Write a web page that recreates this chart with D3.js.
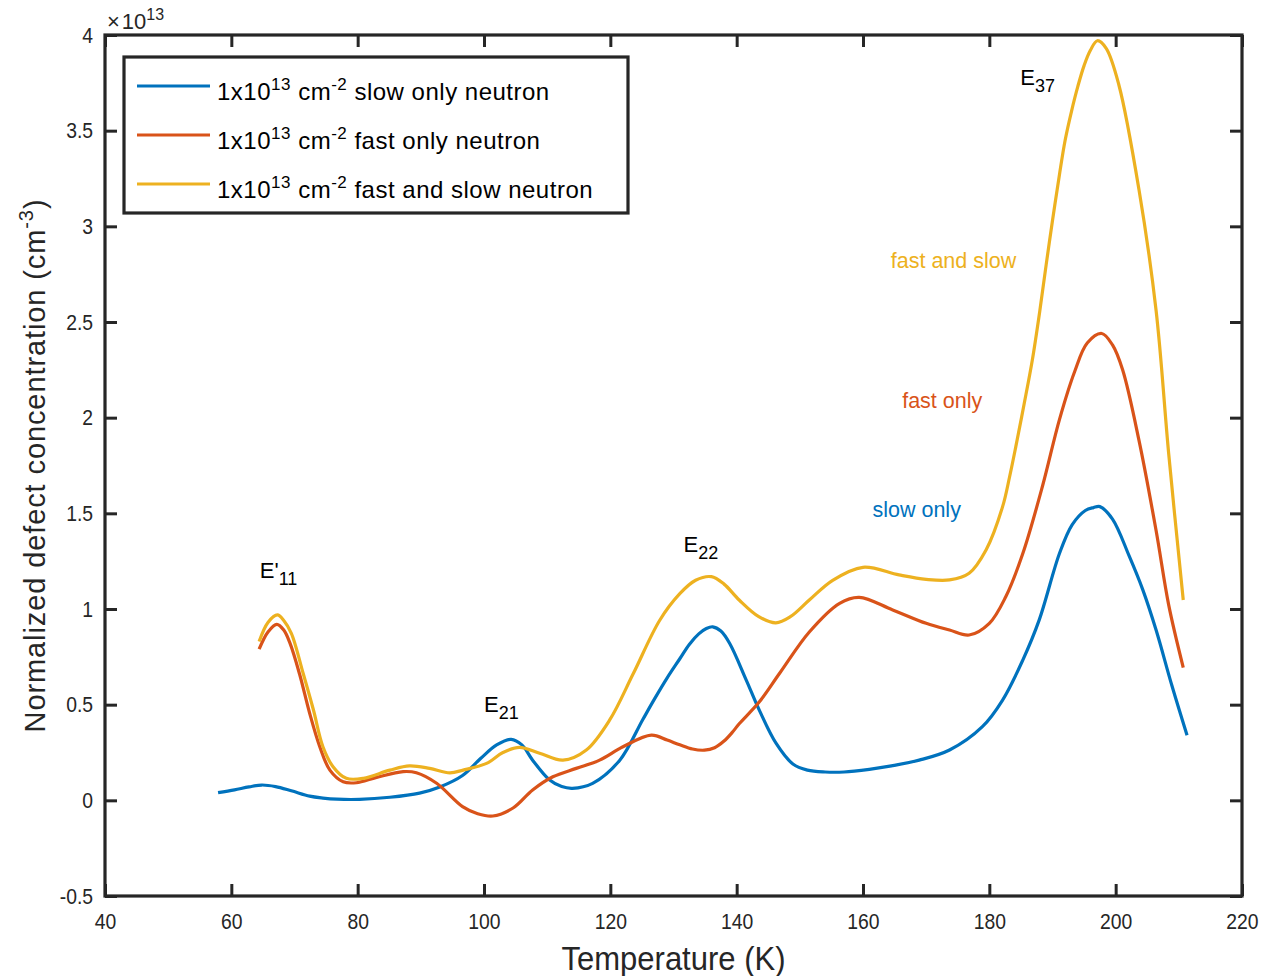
<!DOCTYPE html>
<html><head><meta charset="utf-8">
<script src="https://cdn.jsdelivr.net/npm/d3@7"></script>
<style>
body{margin:0;background:#fff;}
svg{display:block;}
text{font-family:"Liberation Sans",Arial,Helvetica,sans-serif;}
</style></head>
<body>
<svg id="chart" width="1270" height="976"></svg>
<script>
// ---- data (temperature K, concentration in units of 1e13 cm^-3) ----
const slowT = [57.9,60.5,62.8,64.8,67,69.5,72.4,74.5,76.7,80.3,85.1,89.8,93,96.6,99.5,102,104.3,106,107.7,110.4,112.3,114,117.2,121.5,125.1,127,129,131,132.5,134,135.2,136.2,137.5,138.9,141.5,143.6,146.2,148.9,151.2,154,157,161,164.5,168.9,173.7,178.9,182.1,185.3,187.9,191.1,193.1,195.2,196.5,197.5,199.5,202.1,204.3,206.4,208.9,211.3];
const slowV = [0.04,0.055,0.07,0.08,0.072,0.05,0.022,0.012,0.006,0.005,0.016,0.038,0.07,0.13,0.22,0.29,0.319,0.29,0.21,0.106,0.072,0.063,0.089,0.21,0.42,0.53,0.64,0.74,0.815,0.87,0.898,0.907,0.885,0.82,0.63,0.47,0.30,0.19,0.158,0.148,0.148,0.162,0.18,0.21,0.263,0.385,0.524,0.733,0.943,1.29,1.44,1.515,1.53,1.535,1.47,1.28,1.1,0.89,0.6,0.34];
const fastT = [64.4,65.8,67.2,68.3,69.3,70.8,72.4,74,75.6,77.7,79.8,83,87.2,89.3,92.5,96.6,99,101.4,104.6,107.7,110.9,114.6,118.3,122,126.5,129,131,133,134.9,136.5,138,139.3,140.4,143.6,146.8,151.5,156.3,159.4,164.7,170,173.7,176.8,180,182.6,185.3,188.4,191.1,193.5,195.5,197.8,199.5,201.1,203.7,206.4,208.4,210.7];
const fastV = [0.79,0.88,0.92,0.89,0.82,0.66,0.455,0.28,0.158,0.097,0.092,0.12,0.15,0.144,0.089,-0.033,-0.07,-0.082,-0.04,0.054,0.123,0.167,0.21,0.28,0.341,0.315,0.29,0.268,0.262,0.275,0.31,0.355,0.40,0.515,0.664,0.88,1.03,1.061,0.995,0.925,0.89,0.864,0.925,1.064,1.29,1.64,1.99,2.24,2.39,2.44,2.38,2.25,1.88,1.41,1.02,0.694];
const bothT = [64.4,65.8,67.3,68.3,69.5,71.4,73,74.5,76.1,78.2,80.9,85.1,88.2,91.4,94.6,96.7,100.4,103,105.6,108.8,112.5,116.2,119.9,123.6,127.8,131,133.5,136,138,140.4,143.5,146.2,148.5,151.5,155.2,160,165.7,170,173.7,176.8,179.5,182.1,183.2,184.2,185.5,186.8,188,189,190,191.1,192,193,194,195,196,197.1,198.5,200.5,203.7,206.4,208.4,210.7];
const bothV = [0.83,0.93,0.969,0.94,0.873,0.66,0.472,0.28,0.176,0.115,0.115,0.158,0.18,0.167,0.144,0.158,0.193,0.25,0.277,0.246,0.21,0.263,0.42,0.66,0.94,1.08,1.15,1.169,1.13,1.047,0.96,0.928,0.96,1.047,1.15,1.218,1.178,1.155,1.152,1.187,1.31,1.535,1.69,1.85,2.07,2.3,2.56,2.8,3.03,3.27,3.45,3.6,3.73,3.84,3.92,3.97,3.93,3.74,3.19,2.56,1.81,1.047];

const seriesNames = ["slow only neutron","fast only neutron","fast and slow neutron"];
const seriesColors = ["#0072BD","#D95319","#EDB120"];
const xTicks = [40,60,80,100,120,140,160,180,200,220];
const yTicks = [-0.5,0,0.5,1,1.5,2,2.5,3,3.5,4];
const yTickLabels = ["-0.5","0","0.5","1","1.5","2","2.5","3","3.5","4"];
const peakLabels = [
  {main:"E'", sub:"11", T:64.5, v:1.163},
  {main:"E", sub:"21", T:100, v:0.46},
  {main:"E", sub:"22", T:131.6, v:1.30},
  {main:"E", sub:"37", T:184.9, v:3.74}
];
const curveLabels = [
  {text:"fast and slow", T:164.4, v:2.78, c:2},
  {text:"fast only", T:166.2, v:2.05, c:1},
  {text:"slow only", T:161.5, v:1.48, c:0}
];

// ---- layout ----
const L=105, R=1242, T0=35, B=896;
const svg = d3.select("#chart");
const x = d3.scaleLinear().domain([40,220]).range([L,R]);
const y = d3.scaleLinear().domain([-0.5,4]).range([B,T0]);
const axisCol = "#262626";
const SX = 0.86; // horizontal condensation of axis fonts

const line = d3.line().x(d=>x(d[0])).y(d=>y(d[1])).curve(d3.curveCatmullRom.alpha(0.5));
const data = [d3.zip(slowT,slowV), d3.zip(fastT,fastV), d3.zip(bothT,bothV)];

data.forEach((d,i)=>{
  svg.append("path").datum(d).attr("d",line).attr("fill","none")
    .attr("stroke",seriesColors[i]).attr("stroke-width",3.2).attr("stroke-linejoin","round");
});

// axes with inward ticks on all sides
const tl = 12;
const gB = svg.append("g").attr("transform",`translate(0,${B})`)
  .call(d3.axisBottom(x).tickValues(xTicks).tickSizeInner(-tl).tickSizeOuter(0).tickPadding(17));
const gT = svg.append("g").attr("transform",`translate(0,${T0})`)
  .call(d3.axisTop(x).tickValues(xTicks).tickSizeInner(-tl).tickSizeOuter(0).tickFormat(""));
const gL = svg.append("g").attr("transform",`translate(${L},0)`)
  .call(d3.axisLeft(y).tickValues(yTicks).tickSizeInner(-tl).tickSizeOuter(0).tickPadding(12)
    .tickFormat((d,i)=>yTickLabels[i]));
const gR = svg.append("g").attr("transform",`translate(${R},0)`)
  .call(d3.axisRight(y).tickValues(yTicks).tickSizeInner(-tl).tickSizeOuter(0).tickFormat(""));
[gB,gT,gL,gR].forEach(g=>{
  g.select(".domain").remove();
  g.selectAll(".tick line").attr("stroke",axisCol).attr("stroke-width",3);
  g.selectAll(".tick text").attr("fill",axisCol).attr("font-size",22.5);
});
gB.selectAll(".tick text").attr("dy","0.71em").attr("transform",`scale(${SX},1)`);
gL.selectAll(".tick text").attr("x",-12/SX).attr("transform",`scale(${SX},1)`);
// box
svg.append("rect").attr("x",L).attr("y",T0).attr("width",R-L).attr("height",B-T0)
  .attr("fill","none").attr("stroke",axisCol).attr("stroke-width",3.2);

// exponent label
const ex = svg.append("text").attr("x",107).attr("y",29).attr("font-size",22).attr("fill",axisCol);
ex.append("tspan").text("\u00d7");
ex.append("tspan").attr("dx",2).text("10");
ex.append("tspan").attr("dy",-9).attr("font-size",16).text("13");

// axis labels
svg.append("text").attr("transform",`translate(${(L+R)/2},970) scale(0.94,1)`).attr("text-anchor","middle")
  .attr("font-size",33).attr("fill",axisCol).text("Temperature (K)");
const yl = svg.append("text").attr("transform",`translate(45,${(T0+B)/2}) rotate(-90)`)
  .attr("text-anchor","middle").attr("font-size",29).attr("letter-spacing",0.9).attr("fill",axisCol);
yl.append("tspan").text("Normalized defect concentration (cm");
yl.append("tspan").attr("dy",-12).attr("font-size",20).text("-3");
yl.append("tspan").attr("dy",12).text(")");

// peak labels
peakLabels.forEach(p=>{
  const t = svg.append("text").attr("x",x(p.T)).attr("y",y(p.v)).attr("font-size",22).attr("fill","#000");
  t.append("tspan").text(p.main);
  t.append("tspan").attr("dy",7).attr("font-size",18).text(p.sub);
});
curveLabels.forEach(c=>{
  svg.append("text").attr("x",x(c.T)).attr("y",y(c.v)).attr("font-size",21.5)
    .attr("fill",seriesColors[c.c]).text(c.text);
});

// legend
const lg = svg.append("g");
lg.append("rect").attr("x",124).attr("y",57).attr("width",504).attr("height",156)
  .attr("fill","#fff").attr("stroke",axisCol).attr("stroke-width",3.2);
seriesNames.forEach((n,i)=>{
  const yy = 86 + i*49;
  lg.append("line").attr("x1",137).attr("x2",210).attr("y1",yy).attr("y2",yy)
    .attr("stroke",seriesColors[i]).attr("stroke-width",3.2);
  const t = lg.append("text").attr("x",217).attr("y",yy+14).attr("font-size",24)
    .attr("letter-spacing",0.5).attr("fill","#000");
  t.append("tspan").text("1x10");
  t.append("tspan").attr("dy",-10).attr("font-size",17).text("13");
  t.append("tspan").attr("dy",10).text(" cm");
  t.append("tspan").attr("dy",-10).attr("font-size",17).text("-2");
  t.append("tspan").attr("dy",10).text(" "+n);
});
</script>
</body></html>
